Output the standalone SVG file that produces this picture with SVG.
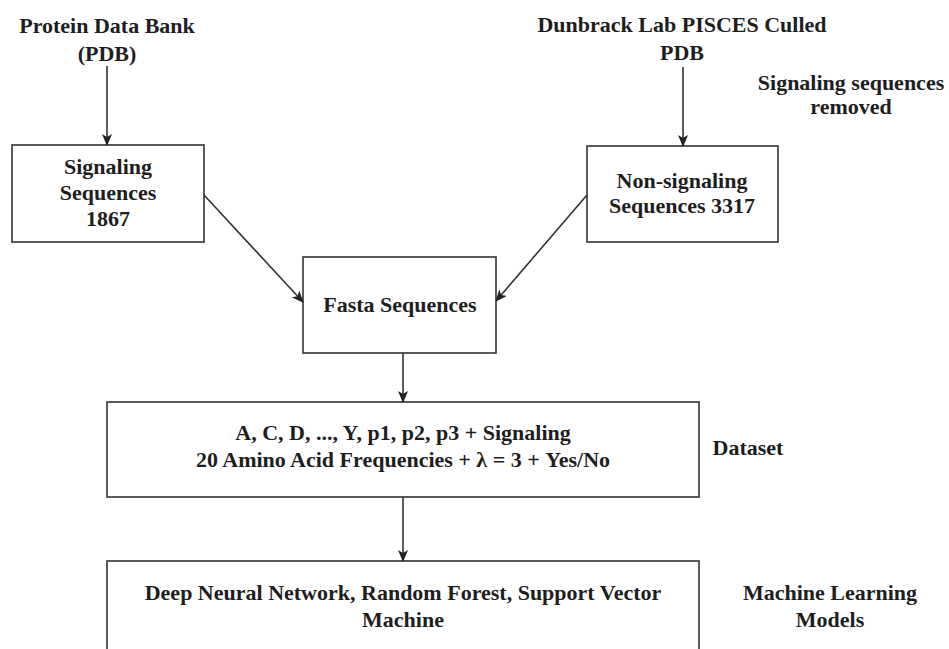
<svg xmlns="http://www.w3.org/2000/svg" width="949" height="649" viewBox="0 0 949 649">
<defs>
<style>
.box{fill:#ffffff;stroke:#333333;stroke-width:1.6}
.t{font-family:"Liberation Serif","Times New Roman",serif;font-weight:bold;font-size:22px;fill:#1e1e1e;text-anchor:middle}
.c{fill:none;stroke:#333333;stroke-width:1.6}
</style>
<marker id="ah" viewBox="0 0 12 10" refX="11" refY="5" markerWidth="12" markerHeight="10" markerUnits="userSpaceOnUse" orient="auto">
<path d="M0,0 L12,5 L0,10 L3,5 Z" fill="#222222"/>
</marker>
</defs>
<rect width="949" height="649" fill="#ffffff"/>

<g id="pdb">
<text class="t" x="107" y="33">Protein Data Bank</text>
<text class="t" x="107" y="61">(PDB)</text>
</g>
<g id="pisces">
<text class="t" x="682" y="32">Dunbrack Lab PISCES Culled</text>
<text class="t" x="682" y="60">PDB</text>
</g>
<g id="removed-label">
<text class="t" x="851" y="90">Signaling sequences</text>
<text class="t" x="851" y="114">removed</text>
</g>
<g id="signaling">
<rect class="box" x="12" y="145" width="192" height="97"/>
<text class="t" x="108" y="174">Signaling</text>
<text class="t" x="108" y="200">Sequences</text>
<text class="t" x="108" y="226">1867</text>
</g>
<g id="nonsignaling">
<rect class="box" x="587" y="146" width="191" height="96"/>
<text class="t" x="682" y="188">Non-signaling</text>
<text class="t" x="682" y="213">Sequences 3317</text>
</g>
<g id="fasta">
<rect class="box" x="303" y="257" width="193" height="96"/>
<text class="t" x="400" y="312">Fasta Sequences</text>
</g>
<g id="dataset">
<rect class="box" x="107" y="402" width="592" height="95"/>
<text class="t" x="403" y="440">A, C, D, ..., Y, p1, p2, p3 + Signaling</text>
<text class="t" x="403" y="467">20 Amino Acid Frequencies + λ = 3 + Yes/No</text>
</g>
<g id="dataset-label">
<text class="t" x="748" y="455">Dataset</text>
</g>
<g id="models">
<rect class="box" x="107" y="561" width="592" height="110"/>
<text class="t" x="403" y="600">Deep Neural Network, Random Forest, Support Vector</text>
<text class="t" x="403" y="627">Machine</text>
</g>
<g id="models-label">
<text class="t" x="830" y="600">Machine Learning</text>
<text class="t" x="830" y="627">Models</text>
</g>

<g id="connectors">
<line class="c" x1="107" y1="66" x2="107" y2="145" marker-end="url(#ah)"/>
<line class="c" x1="683" y1="67" x2="683" y2="146" marker-end="url(#ah)"/>
<line class="c" x1="204" y1="195" x2="303" y2="302" marker-end="url(#ah)"/>
<line class="c" x1="587" y1="195" x2="496" y2="301" marker-end="url(#ah)"/>
<line class="c" x1="403" y1="353" x2="403" y2="402" marker-end="url(#ah)"/>
<line class="c" x1="403" y1="497" x2="403" y2="561" marker-end="url(#ah)"/>
</g>
</svg>
